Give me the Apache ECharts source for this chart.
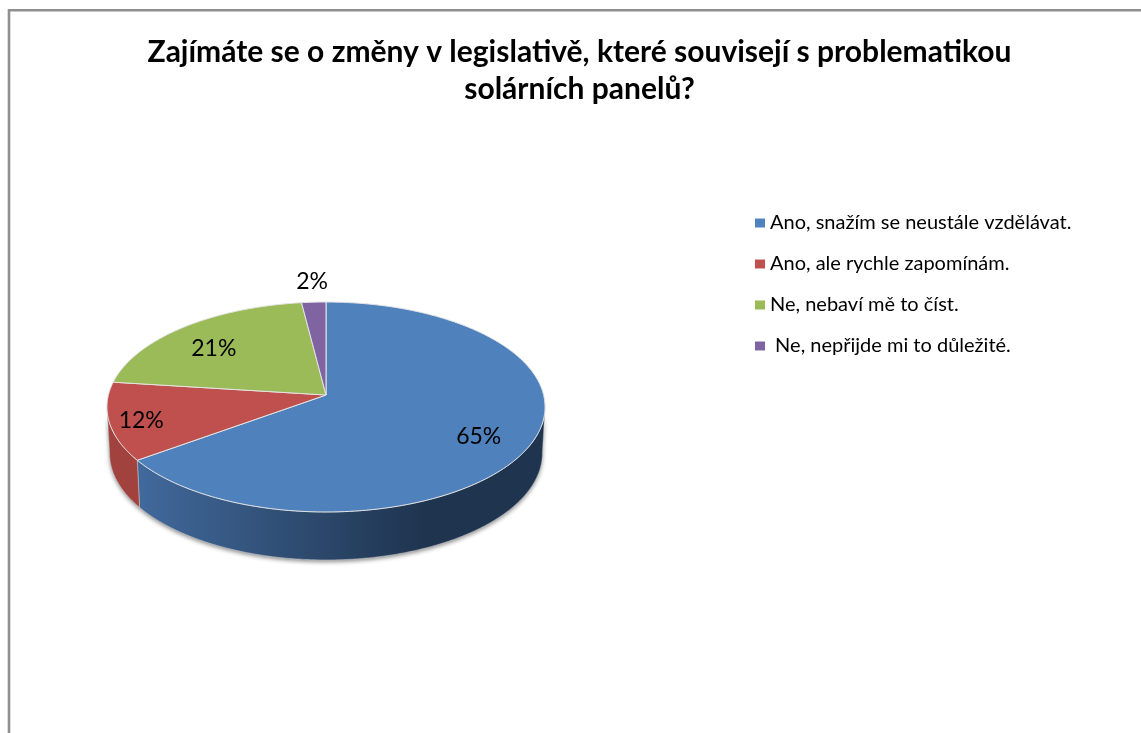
<!DOCTYPE html>
<html>
<head>
<meta charset="utf-8">
<style>html,body{margin:0;padding:0;background:#fff}#chart{width:1141px;height:733px}</style>
<script src="https://cdn.jsdelivr.net/npm/echarts@6/dist/echarts.min.js"></script>
</head>
<body>
<div id="chart"></div>
<script>
// Survey answers and their shares in percent
const categories = [
  'Ano, snažím se neustále vzdělávat.',
  'Ano, ale rychle zapomínám.',
  'Ne, nebaví mě to číst.',
  ' Ne, nepřijde mi to důležité.'
];
const shares = [65, 12, 21, 2];
const chartTitle = 'Zajímáte se o změny v legislativě, které souvisejí s problematikou\nsolárních panelů?';

const topColors = ['#4f81bd', '#c0504d', '#9bbb59', '#8064a2'];
const wallFills = [
  { type: 'linear', x: 140, y: 0, x2: 425, y2: 0, global: true,
    colorStops: [{ offset: 0, color: '#41699b' }, { offset: 1, color: '#1f344f' }] },
  '#a1423f', '#7c9a45', '#66507f'
];
// How far along the radius each percentage sits (1 = on the rim), plus a pixel nudge
const labelReach = [0.79, 0.86, 0.76, 1.25];
const labelNudge = [[-7, 3], [1, 3], [-2, 6], [1, 0]];

// Perspective view of the tilted disc
const apex = { x: 326, y: 395 };
const view = { rx: 217.6, ry: 103.6, k: 0.1143, depth: 46, shrink: 0.988 };
const fontFamily = 'Lato, Carlito, sans-serif';

function project(theta, r) {
  const X = r * Math.sin(theta), Y = r * Math.cos(theta);
  const d = 1 + view.k * Y;
  return [apex.x + view.rx * X / d, apex.y - view.ry * Y / d];
}
function lower(p) {
  return [apex.x + (p[0] - apex.x) * view.shrink,
          p[1] + view.depth + 2 * (p[1] - apex.y) / 117];
}
function arc(a, b) {
  const n = Math.max(2, Math.ceil(Math.abs(b - a) / 0.01));
  const pts = [];
  for (let i = 0; i <= n; i++) pts.push(project(a + (b - a) * i / n, 1));
  return pts;
}

const total = shares.reduce((s, v) => s + v, 0);
const frontFrom = Math.acos(-view.k);
const frontTo = 2 * Math.PI - frontFrom;

function renderSlice(index) {
  return function (params, api) {
    const before = shares.slice(0, index).reduce((s, v) => s + v, 0);
    const value = api.value(0);
    const a = before / total * 2 * Math.PI;
    const b = (before + value) / total * 2 * Math.PI;
    const children = [];

    const wa = Math.max(a, frontFrom), wb = Math.min(b, frontTo);
    if (wb > wa) {
      const rim = arc(wa, wb);
      const wall = rim.concat(rim.map(lower).reverse());
      children.push({
        type: 'polygon', z2: 0, shape: { points: wall },
        style: { fill: '#999', shadowBlur: 4, shadowColor: 'rgba(0,0,0,0.45)', shadowOffsetY: 2 }
      });
      children.push({
        type: 'polygon', z2: 1, shape: { points: wall },
        style: { fill: wallFills[index], stroke: 'rgba(225,225,225,0.55)', lineWidth: 0.8 }
      });
    }
    children.push({
      type: 'polygon', z2: 2,
      shape: { points: [[apex.x, apex.y]].concat(arc(a, b)) },
      style: { fill: topColors[index], stroke: '#e4e4e4', lineWidth: 1, lineJoin: 'round' }
    });
    const at = project((a + b) / 2, labelReach[index]);
    children.push({
      type: 'text', z2: 3,
      style: {
        text: value + '%', x: at[0] + labelNudge[index][0], y: at[1] + labelNudge[index][1],
        align: 'center', verticalAlign: 'middle',
        fontSize: 23, fontFamily: fontFamily, fill: '#000'
      }
    });
    return { type: 'group', children: children };
  };
}

const chart = echarts.init(document.getElementById('chart'), null, { renderer: 'canvas' });
chart.setOption({
  animation: false,
  backgroundColor: '#fff',
  title: {
    text: chartTitle, left: 574.5, top: 29, textAlign: 'center',
    textStyle: { fontFamily: fontFamily, fontWeight: 'bold', fontSize: 30, lineHeight: 37, color: '#000' }
  },
  legend: {
    orient: 'vertical', left: 750, top: 203, icon: 'rect',
    itemWidth: 10, itemHeight: 9, itemGap: 11,
    selectedMode: false,
    data: categories,
    textStyle: { fontFamily: fontFamily, fontSize: 20, lineHeight: 30, color: '#000' }
  },
  graphic: [{
    type: 'rect', silent: true,
    shape: { x: 9, y: 10.3, width: 1400, height: 1000 },
    style: { fill: 'none', stroke: '#8f8f8f', lineWidth: 2.6 }
  }],
  series: categories.map((name, i) => ({
    type: 'custom', name: name, coordinateSystem: 'none',
    itemStyle: { color: topColors[i] },
    data: [shares[i]],
    renderItem: renderSlice(i)
  }))
});
</script>
</body>
</html>
